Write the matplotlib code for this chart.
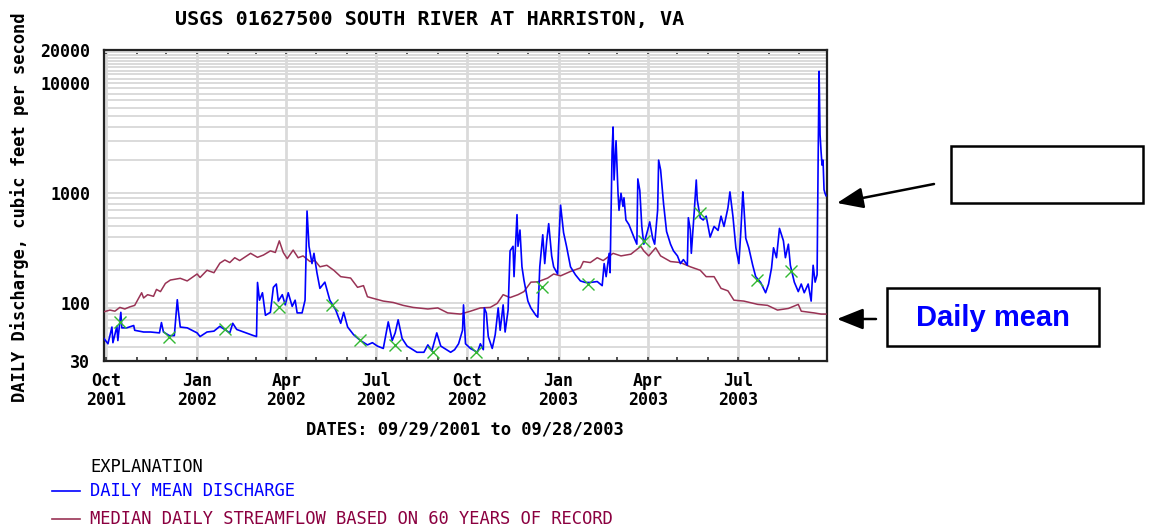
import numpy as np
import matplotlib
matplotlib.use("Agg")
import matplotlib.pyplot as plt
import matplotlib.dates as mdates
from matplotlib.ticker import FixedLocator, FixedFormatter, NullFormatter
from matplotlib.patches import Rectangle

# ---- data -------------------------------------------------------------
start = np.datetime64("2001-09-29")
end = np.datetime64("2003-09-28")

# daily mean discharge (cfs), keyed by days since 2001-09-29
flow_day = [
    0, 4, 8, 9, 13, 14, 17, 18, 23, 30,
    31, 40, 47, 56, 58, 60, 66, 71, 74, 75,
    77, 84, 94, 97, 104, 111, 117, 127, 130, 134,
    151, 154, 155, 157, 160, 163, 168, 171, 174, 176,
    180, 183, 186, 190, 193, 195, 200, 203, 205, 207,
    210, 212, 215, 218, 223, 228, 234, 239, 242, 246,
    252, 259, 266, 271, 276, 282, 287, 291, 294, 297,
    301, 306, 316, 323, 327, 331, 336, 340, 350, 354,
    358, 362, 363, 365, 370, 377, 380, 383, 384, 386,
    388, 392, 395, 398, 400, 403, 405, 408, 410, 413,
    414, 417, 418, 420, 422, 424, 428, 431, 436, 438,
    440, 443, 445, 447, 449, 452, 454, 458, 459, 461,
    464, 467, 471, 476, 481, 486, 491, 498, 503, 505,
    507, 510, 511, 513, 514, 515, 517, 519, 520, 522,
    524, 525, 527, 530, 535, 538, 539, 541, 543, 545,
    549, 551, 554, 556, 559, 560, 562, 565, 568, 572,
    575, 579, 582, 585, 589, 590, 592, 593, 594, 596,
    598, 599, 602, 605, 608, 612, 616, 620, 623, 626,
    630, 632, 635, 638, 641, 643, 645, 646, 648, 651,
    655, 658, 663, 668, 671, 674, 676, 679, 682, 686,
    688, 691, 693, 697, 701, 704, 707, 711, 714, 716,
    718, 720, 721, 722, 723, 724, 725, 726, 727, 728,
    729,
]
flow_cfs = [
    48, 43, 61, 44, 62, 46, 83, 60, 60, 63,
    57, 55, 55, 54, 67, 55, 51, 51, 108, 87,
    61, 60, 54, 50, 55, 56, 62, 54, 66, 58,
    51, 50, 155, 107, 125, 78, 83, 140, 150, 105,
    120, 97, 125, 94, 107, 82, 82, 107, 690, 330,
    230, 285, 190, 137, 156, 107, 87, 66, 83, 61,
    52, 46, 42, 44, 41, 39, 68, 46, 54, 71,
    48, 41, 36, 36, 42, 37, 54, 41, 36, 38,
    43, 57, 97, 43, 39, 36, 43, 38, 91, 82,
    50, 39, 52, 91, 57, 97, 55, 87, 300, 330,
    175, 640, 330, 464, 215, 163, 105, 91, 78, 75,
    215, 420, 230, 370, 530, 270, 215, 185, 330, 780,
    440, 330, 215, 182, 160, 155, 155, 158, 145, 230,
    175, 285, 190, 2400, 4000, 1320, 3000, 1000, 700, 1000,
    760, 910, 572, 520, 400, 345, 1350, 1060, 500, 345,
    464, 550, 390, 345, 705, 2000, 1630, 800, 450, 345,
    300, 270, 230, 250, 222, 600, 464, 285, 380, 690,
    1320, 870, 600, 572, 620, 400, 500, 460, 620, 500,
    740, 1030, 620, 320, 230, 450, 1030, 780, 390, 320,
    222, 175, 155, 125, 150, 210, 320, 260, 480, 370,
    260, 345, 222, 156, 128, 150, 125, 150, 105, 222,
    156, 182, 1800, 12800, 3400, 2400, 1800, 2000, 1080, 1000,
    950,
]

# median daily streamflow over the period of record (cfs)
median_day = [
    0, 6, 11, 16, 21, 26, 31, 38, 40, 44,
    50, 53, 57, 62, 67, 77, 84, 94, 97, 104,
    111, 117, 122, 127, 132, 137, 148, 155, 161, 168,
    173, 177, 181, 185, 191, 196, 201, 208, 213, 218,
    225, 232, 239, 249, 256, 262, 266, 272, 282, 292,
    302, 312, 327, 337, 347, 360, 370, 380, 390, 397,
    403, 410, 418, 424, 431, 438, 448, 454, 461, 471,
    481, 484, 491, 498, 504, 514, 522, 532, 542, 545,
    550, 557, 562, 572, 582, 592, 602, 608, 616, 623,
    630, 636, 646, 660, 670, 680, 691, 701, 704, 717,
    724, 729,
]
median_cfs = [
    84, 87, 85, 92, 89, 93, 96, 125, 112, 120,
    116, 134, 128, 152, 163, 169, 160, 185, 172, 200,
    190, 232, 248, 235, 260, 245, 285, 262, 275, 300,
    290, 370, 290, 255, 305, 260, 270, 240, 245, 215,
    222, 200, 175, 170, 140, 145, 115, 111, 105, 102,
    96, 92, 89, 91, 82, 80, 85, 91, 92, 100,
    120, 113, 120, 128, 156, 157, 170, 185, 178, 195,
    210, 240, 235, 260, 245, 285, 270, 280, 330, 300,
    270, 320, 270, 240, 235, 215, 200, 175, 175, 137,
    130, 107, 105, 98, 96, 87, 90, 98, 85, 82,
    80, 80,
]

# field measurements
meas_day = [16, 66, 122, 177, 230, 258, 294, 332, 376, 442, 489, 545, 602, 659, 694]
meas_cfs = [68, 50, 59, 93, 97, 47, 42, 36, 36, 140, 150, 370, 660, 163, 197]

ytick_vals = [30, 100, 1000, 10000, 20000]
ytick_labels = ["30", "100", "1000", "10000", "20000"]

title = "USGS 01627500 SOUTH RIVER AT HARRISTON, VA"
ylabel = "DAILY Discharge, cubic feet per second"
xlabel = "DATES: 09/29/2001 to 09/28/2003"
legend_head = "EXPLANATION"
legend_flow = "DAILY MEAN DISCHARGE"
legend_median = "MEDIAN DAILY STREAMFLOW BASED ON 60 YEARS OF RECORD"
callout_text = "Daily mean"

# ---- figure -----------------------------------------------------------
W, H = 1150, 532
fig = plt.figure(figsize=(W / 100, H / 100), dpi=100)
fig.patch.set_facecolor("white")

def fx(px):
    return px / W

def fy(py):
    return 1 - py / H

ax = fig.add_axes([fx(104), fy(361), fx(827) - fx(104), fy(50) - fy(361)])

BLUE = "#0000ff"
MAROON = "#993355"
GREEN = "#33b833"
GRID = "#dadada"
MONO = "DejaVu Sans Mono"

to_dates = lambda days: start + np.array(days, dtype="timedelta64[D]")

ax.plot(to_dates(median_day), median_cfs, color=MAROON, lw=1.1, zorder=3)
ax.plot(to_dates(flow_day), flow_cfs, color=BLUE, lw=1.2, zorder=4)
ax.plot(to_dates(meas_day), meas_cfs, ls="none", marker="x", ms=8,
        mew=1.0, color=GREEN, zorder=5)

ax.set_yscale("log")
ax.set_ylim(30, 20000)
ax.set_xlim(start, end + np.timedelta64(1, "D"))

# y axis: labelled values plus a log grid
grid_vals = [v * m for m in (10, 100, 1000) for v in range(1, 10)] + \
            [10000 + 1000 * k for k in range(1, 10)]
grid_vals = sorted(set(g for g in grid_vals if 30 < g < 20000))
ax.yaxis.set_major_locator(FixedLocator(ytick_vals))
ax.yaxis.set_major_formatter(FixedFormatter(ytick_labels))
ax.yaxis.set_minor_locator(FixedLocator(grid_vals))
ax.yaxis.set_minor_formatter(NullFormatter())
ax.tick_params(axis="y", which="both", length=0, pad=10)
for lab in ax.get_yticklabels():
    lab.set_fontfamily(MONO)
    lab.set_fontweight("bold")
    lab.set_fontsize(12)

# x axis: quarterly labels, monthly ticks
ax.xaxis.set_major_locator(mdates.MonthLocator(bymonth=[1, 4, 7, 10]))
ax.xaxis.set_major_formatter(mdates.DateFormatter("%b\n%Y"))
ax.xaxis.set_minor_locator(mdates.MonthLocator())
ax.tick_params(axis="x", which="both", direction="in", top=True, bottom=True,
               length=3, width=1.2, color="#333333", pad=8)
for lab in ax.get_xticklabels():
    lab.set_fontfamily(MONO)
    lab.set_fontweight("bold")
    lab.set_fontsize(12)
    lab.set_linespacing(1.05)

ax.grid(True, which="major", axis="x", color=GRID, lw=2.0, zorder=0)
ax.grid(True, which="both", axis="y", color=GRID, lw=1.4, zorder=0)
ax.set_axisbelow(True)
for s in ax.spines.values():
    s.set_color("#222222")
    s.set_linewidth(1.6)

# titles
fig.text(fx(430), fy(20), title, ha="center", va="center", fontsize=14.5,
         fontweight="bold", family=MONO)
fig.text(fx(20), fy(207), ylabel, ha="center", va="center", rotation=90,
         fontsize=12.3, fontweight="bold", family=MONO)
fig.text(fx(465), fy(430), xlabel, ha="center", va="center", fontsize=12.3,
         fontweight="bold", family=MONO)

# explanation block
fig.text(fx(90), fy(467), legend_head, ha="left", va="center", fontsize=12.3,
         family=MONO, color="black")
fig.text(fx(90), fy(491), legend_flow, ha="left", va="center", fontsize=12.3,
         family=MONO, color=BLUE)
fig.text(fx(90), fy(519), legend_median, ha="left", va="center", fontsize=12.3,
         family=MONO, color="#8b0040")
fig.add_artist(plt.Line2D([fx(52), fx(80)], [fy(491), fy(491)], color=BLUE,
                          lw=1.2, transform=fig.transFigure))
fig.add_artist(plt.Line2D([fx(52), fx(80)], [fy(519), fy(519)], color=MAROON,
                          lw=1.2, transform=fig.transFigure))

# callout boxes and arrows
def box(x0, y0, x1, y1):
    fig.add_artist(Rectangle((fx(x0), fy(y1)), fx(x1) - fx(x0), fy(y0) - fy(y1),
                             transform=fig.transFigure, fill=False,
                             edgecolor="black", lw=1.8))

box(951, 146, 1143, 203)
box(887, 288, 1099, 346)
fig.text(fx(993), fy(318), callout_text, ha="center", va="center",
         fontsize=21, fontweight="bold", family="Liberation Sans", color=BLUE)

arrow_kw = dict(arrowstyle="-|>,head_length=0.8,head_width=0.32",
                mutation_scale=20, lw=1.8, color="black", shrinkA=0, shrinkB=0)
ax.annotate("", xy=(837, H - 203), xycoords="figure pixels",
            xytext=(934, H - 184), textcoords="figure pixels",
            arrowprops=arrow_kw, annotation_clip=False)
ax.annotate("", xy=(837, H - 319), xycoords="figure pixels",
            xytext=(876, H - 319), textcoords="figure pixels",
            arrowprops=arrow_kw, annotation_clip=False)

fig.savefig("out.png", dpi=100, facecolor="white")
